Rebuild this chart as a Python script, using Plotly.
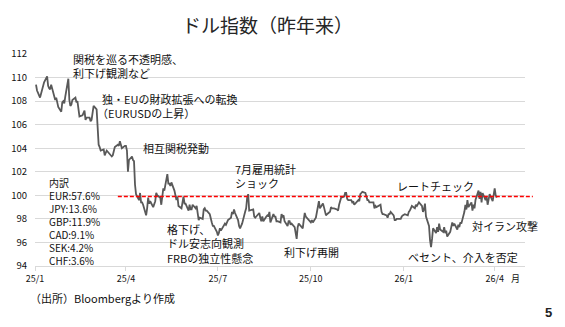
import pandas as pd
import plotly.graph_objects as go

# Dollar index, daily closes by month
dxy_2025_01 = [109.4, 108.9, 108.3, 108.7, 109.1, 109.2, 109.6, 110.1, 109.3, 109.1, 109.0,
               109.4, 108.3, 108.1, 108.3, 108.0, 107.5, 107.1, 107.9, 108.0, 107.8, 108.4]
dxy_2025_02 = [109.9, 108.1, 107.6, 107.7, 108.1, 108.3, 107.9, 108.0, 107.3, 106.7,
               106.8, 107.1, 107.2, 106.4, 106.6, 106.6, 106.3, 106.4, 107.2, 107.6]
dxy_2025_03 = [107.3, 105.7, 104.3, 104.1, 103.8, 103.9, 103.4, 103.6, 103.8, 103.7, 103.4,
               103.3, 103.4, 103.9, 104.1, 104.3, 104.2, 104.6, 104.3, 104.0, 104.2]
dxy_2025_04 = [104.2, 103.8, 102.0, 103.0, 103.3, 103.0, 102.9, 100.9, 100.1, 99.6, 100.2,
               99.4, 99.4, 99.2, 98.3, 98.9, 99.8, 99.3, 99.5, 99.0, 99.2, 99.5]
dxy_2025_05 = [100.2, 100.0, 99.8, 99.2, 99.9, 100.6, 100.4, 101.8, 101.0, 101.0, 100.8,
               101.1, 100.4, 100.0, 99.6, 99.9, 99.1, 98.9, 99.5, 99.9, 99.3, 99.3]
dxy_2025_06 = [98.7, 99.2, 98.8, 98.8, 99.2, 98.9, 99.1, 98.6, 97.9, 98.1, 98.0,
               98.8, 98.9, 98.7, 98.7, 98.4, 97.9, 97.7, 97.4, 97.4, 96.9]
dxy_2025_07 = [96.6, 96.8, 97.2, 97.0, 97.5, 97.6, 97.5, 97.7, 97.9, 98.1, 98.6, 98.4,
               98.8, 98.5, 97.9, 97.4, 97.2, 97.4, 97.6, 98.6, 98.9, 99.8, 100.1]
dxy_2025_08 = [98.7, 98.8, 98.8, 98.2, 98.1, 98.2, 98.5, 98.1, 97.8, 98.2, 97.8,
               98.2, 98.3, 98.2, 98.6, 97.7, 98.4, 98.2, 98.2, 97.8, 97.8]
dxy_2025_09 = [97.7, 98.4, 98.2, 98.3, 97.8, 97.4, 97.8, 97.8, 97.5, 97.6, 97.3,
               96.6, 96.3, 97.3, 97.6, 97.3, 97.2, 97.9, 98.5, 98.2, 97.9, 97.8]
dxy_2025_10 = [97.7, 97.9, 97.7, 98.1, 98.6, 98.9, 99.5, 98.9, 99.3, 99.0, 98.7, 98.3,
               98.4, 98.6, 99.0, 98.9, 98.9, 98.9, 98.8, 98.7, 99.2, 99.5, 99.8]
dxy_2025_11 = [99.9, 100.2, 100.2, 99.7, 99.6, 99.6, 99.4, 99.5, 99.2, 99.3,
               99.6, 99.5, 100.1, 100.2, 100.3, 100.2, 99.8, 99.6, 99.6, 99.4]
dxy_2025_12 = [99.4, 99.4, 98.9, 99.1, 99.0, 99.1, 99.2, 98.6, 98.4, 98.4, 98.3, 98.1,
               98.4, 98.4, 98.6, 98.3, 97.9, 97.9, 98.0, 98.0, 98.0, 98.2, 98.3]
dxy_2026_01 = [98.4, 98.3, 98.6, 98.7, 98.9, 99.1, 98.9, 99.2, 99.1, 99.3, 99.4,
               99.1, 98.6, 98.8, 99.3, 98.2, 97.4, 96.2, 95.6, 96.3, 97.2]
dxy_2026_02 = [96.8, 97.3, 96.9, 97.6, 97.1, 96.9, 97.3, 96.8, 97.0, 96.5,
               96.9, 97.3, 97.7, 97.4, 97.6, 97.1, 97.5, 97.3, 97.7, 97.6]
dxy_2026_03 = [98.6, 99.2, 98.8, 99.6, 99.0, 99.4, 98.7, 99.2, 98.9, 99.6, 100.4,
               99.7, 100.3, 99.4, 100.2, 99.6, 99.9, 99.2, 99.8, 100.1, 99.5, 100.2]
dxy_2026_04 = [100.6, 100.0, 99.8]

dxy_values = (dxy_2025_01 + dxy_2025_02 + dxy_2025_03 + dxy_2025_04 + dxy_2025_05
              + dxy_2025_06 + dxy_2025_07 + dxy_2025_08 + dxy_2025_09 + dxy_2025_10
              + dxy_2025_11 + dxy_2025_12 + dxy_2026_01 + dxy_2026_02 + dxy_2026_03
              + dxy_2026_04)

trade_dates = pd.bdate_range("2025-01-02", "2026-04-03")
trade_dates = trade_dates[trade_dates != pd.Timestamp("2026-01-01")]
assert len(trade_dates) == len(dxy_values), (len(trade_dates), len(dxy_values))

tick_dates = ["2025-01-01", "2025-04-01", "2025-07-01", "2025-10-01", "2026-01-01", "2026-04-01"]
tick_labels = ["25/1", "25/4", "25/7", "25/10", "26/1", "26/4"]

current_level = 99.9

breakdown = ["内訳", "EUR:57.6%", "JPY:13.6%", "GBP:11.9%", "CAD:9.1%", "SEK:4.2%", "CHF:3.6%"]

# (label lines, anchor date, anchor level at the block's centre)
events = [
    (["関税を巡る不透明感、", "利下げ観測など"], "2025-02-06", 110.98),
    (["独・EUの財政拡張への転換"], "2025-03-06", 108.18),
    (["（EURUSDの上昇）"], "2025-03-01", 106.99),
    (["相互関税発動"], "2025-04-16", 104.02),
    (["7月雇用統計", "ショック"], "2025-07-16", 101.66),
    (["格下げ、", "ドル安志向観測", "FRBの独立性懸念"], "2025-05-10", 95.93),
    (["利下げ再開"], "2025-09-02", 95.19),
    (["レートチェック"], "2025-12-23", 100.79),
    (["対イラン攻撃"], "2026-03-08", 97.40),
    (["ベセント、介入を否定"], "2026-01-03", 94.76),
]

X_START, X_END = pd.Timestamp("2025-01-01"), pd.Timestamp("2026-05-01")
FONT = "Noto Sans CJK JP"

fig = go.Figure()
fig.add_trace(go.Scatter(
    x=trade_dates, y=dxy_values, mode="lines",
    line=dict(color="#595959", width=1.8),
    hoverinfo="skip", showlegend=False,
))

# current level reference line
ref_start = pd.Timestamp("2025-03-24")
fig.add_shape(
    type="line", xref="paper", yref="y",
    x0=(ref_start - X_START) / (X_END - X_START), x1=1.016,
    y0=current_level, y1=current_level,
    line=dict(color="#ff0000", width=1.3, dash="4px,2px"),
    layer="above",
)

for lines, d, lvl in events:
    fig.add_annotation(
        x=d, y=lvl, xref="x", yref="y", text="<br>".join(lines), showarrow=False,
        xanchor="left", yanchor="middle", align="left",
        font=dict(family=FONT, size=11, color="#111"),
    )

fig.add_annotation(
    x="2025-01-13", y=97.74, xref="x", yref="y", text="<br>".join(breakdown),
    showarrow=False, xanchor="left", yanchor="middle", align="left",
    font=dict(family=FONT, size=10, color="#111"),
)

fig.add_annotation(
    x=0.4755, y=1.137, xref="paper", yref="paper", text="ドル指数（昨年来）",
    showarrow=False, xanchor="center", yanchor="middle",
    font=dict(family=FONT, size=19, color="#262626"),
)
fig.add_annotation(
    x=-0.014, y=-0.151, xref="paper", yref="paper", text="（出所）Bloombergより作成",
    showarrow=False, xanchor="left", yanchor="middle",
    font=dict(family=FONT, size=11, color="#111"),
)
fig.add_annotation(
    x=0.98, y=-0.061, xref="paper", yref="paper", text="月",
    showarrow=False, xanchor="center", yanchor="middle",
    font=dict(family=FONT, size=9, color="#111"),
)
fig.add_annotation(
    x=1.047, y=-0.217, xref="paper", yref="paper", text="<b>5</b>",
    showarrow=False, xanchor="center", yanchor="middle",
    font=dict(family="Liberation Sans", size=13, color="#222"),
)

fig.update_xaxes(
    range=[X_START, X_END], tickvals=tick_dates, ticktext=tick_labels,
    showgrid=False, showline=True, linecolor="#d9d9d9", linewidth=1,
    ticks="outside", ticklen=4, tickcolor="#d9d9d9",
    tickfont=dict(family=FONT, size=9, color="#111"), zeroline=False,
)
fig.update_yaxes(
    range=[94, 112], dtick=2, tick0=94,
    showgrid=True, gridcolor="#d9d9d9", gridwidth=1, zeroline=False,
    showline=False, ticks="", ticklabelstandoff=7,
    tickfont=dict(family=FONT, size=9.5, color="#111"),
)
fig.update_layout(
    width=565, height=327,
    margin=dict(l=35, r=40, t=54, b=61),
    paper_bgcolor="white", plot_bgcolor="white",
    showlegend=False,
)

fig.write_html("out.html")
